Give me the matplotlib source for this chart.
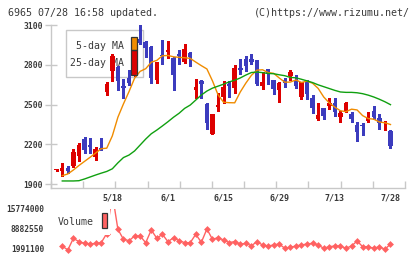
import matplotlib
matplotlib.use("Agg")
import matplotlib.pyplot as plt
from matplotlib.patches import Rectangle

W, H = 420, 259

# ---------------- data ----------------
opens = [2003, 1997, 2023, 2036, 2112, 2243, 2195, 2107, 2172, 2596,
         2752, 2785, 2641, 2700, 2727, 2998, 2975, 2938, 2683, 2876,
         2895, 2856, 2883, 2824, 2890, 2610, 2680, 2506, 2280, 2485,
         2560, 2658, 2628, 2776, 2843, 2845, 2838, 2641, 2770, 2686,
         2612, 2686, 2718, 2686, 2560, 2682, 2552, 2392, 2475, 2490,
         2512, 2410, 2448, 2430, 2346, 2346, 2380, 2452, 2402, 2360,
         2300]
closes = [2003, 2020, 1995, 2142, 2192, 2160, 2178, 2163, 2160, 2658,
          2868, 2682, 2628, 2665, 2918, 2966, 2930, 2698, 2822, 2865,
          2913, 2726, 2868, 2920, 2862, 2635, 2660, 2364, 2430, 2498,
          2635, 2643, 2776, 2762, 2796, 2826, 2658, 2672, 2735, 2620,
          2665, 2665, 2748, 2644, 2670, 2583, 2472, 2420, 2418, 2512,
          2448, 2435, 2515, 2392, 2296, 2338, 2410, 2410, 2360, 2372,
          2188]
highs = [2006, 2061, 2039, 2162, 2208, 2253, 2245, 2180, 2245, 2671,
         2880, 2790, 2697, 2760, 2935, 3100, 2980, 2945, 2826, 2990,
         2983, 2860, 2910, 2962, 2895, 2695, 2690, 2510, 2430, 2585,
         2680, 2680, 2797, 2846, 2868, 2885, 2840, 2745, 2772, 2688,
         2668, 2702, 2765, 2725, 2672, 2690, 2572, 2515, 2478, 2548,
         2552, 2455, 2522, 2447, 2368, 2360, 2445, 2490, 2430, 2380,
         2308]
lows = [2000, 1963, 1985, 2030, 2075, 2135, 2135, 2080, 2155, 2575,
        2676, 2610, 2548, 2648, 2720, 2960, 2860, 2666, 2661, 2805,
        2856, 2613, 2808, 2813, 2790, 2548, 2548, 2318, 2275, 2455,
        2510, 2556, 2592, 2735, 2757, 2810, 2645, 2620, 2660, 2582,
        2520, 2635, 2690, 2628, 2540, 2545, 2440, 2385, 2392, 2465,
        2412, 2372, 2444, 2372, 2222, 2270, 2372, 2395, 2318, 2310,
        2175]
ma5 = [None, 1963, 1976, 2006, 2040, 2071, 2102, 2134, 2167, 2171,
       2264, 2405, 2506, 2599, 2700, 2752, 2772, 2821, 2835, 2870,
       2872, 2862, 2858, 2855, 2850, 2822, 2795, 2770, 2680, 2575,
       2518, 2515, 2514, 2596, 2663, 2722, 2761, 2764, 2743, 2737,
       2702, 2670, 2671, 2687, 2668, 2678, 2662, 2623, 2558, 2513,
       2481, 2454, 2447, 2466, 2460, 2417, 2395, 2390, 2369, 2363,
       2350]
ma25 = [None, 1923, 1923, 1923, 1925, 1938, 1953, 1968, 1982, 1995,
        2015, 2060, 2100, 2119, 2150, 2195, 2240, 2280, 2308, 2339,
        2371, 2405, 2435, 2472, 2497, 2535, 2573, 2603, 2625, 2640,
        2655, 2672, 2685, 2702, 2724, 2743, 2747, 2742, 2736, 2734,
        2726, 2719, 2706, 2703, 2692, 2680, 2667, 2650, 2636, 2622,
        2608, 2596, 2593, 2593, 2590, 2583, 2572, 2558, 2541, 2522,
        2500]
volume = [None, 3020000, 1650000, 5680000, 4510000, 3950000, 3710000, 3950000, 4160000, 7330000,
          21000000, 8780000, 5330000, 4850000, 6470000, 6470000, 4160000, 8540000, 5680000, 7060000,
          4510000, 5880000, 4850000, 4160000, 4160000, 7060000, 4300000, 8880000, 5330000, 5880000,
          5090000, 4230000, 4510000, 3610000, 3950000, 3130000, 4510000, 3370000, 3020000, 3370000,
          3710000, 2230000, 2580000, 3020000, 3370000, 3710000, 3950000, 3370000, 2230000, 2780000,
          3020000, 3020000, 2230000, 3020000, 4750000, 2780000, 2780000, 2230000, 2780000, 1890000,
          3710000]
date_labels = ["5/18", "6/1", "6/15", "6/29", "7/13", "7/28"]
date_label_idx = [10, 20, 30, 40, 50, 60]
price_ticks = [1900, 2200, 2500, 2800, 3100]
vol_ticks = [1991100, 8882550, 15774000]

# ---------------- style ----------------
RED = "#dd0000"
BLUE = "#3c3cbe"
ORANGE = "#f08c00"
GREEN = "#10a010"
VOLC = "#ff6262"
GRID = "#c8c8c8"
TXT = "#3a3a3a"
MONO = "DejaVu Sans Mono"

fig = plt.figure(figsize=(W / 100, H / 100), dpi=100)
fig.patch.set_facecolor("white")


def fr(x0, y0, x1, y1):
    """pixel box (top-left origin) -> figure fraction [l, b, w, h]"""
    return [x0 / W, 1 - y1 / H, (x1 - x0) / W, (y1 - y0) / H]


X0, X1 = 51, 405
step = 5.563
x_first = 56.7
xlim = ((X0 - x_first) / step, (X1 - x_first) / step)

# ---------------- price axes ----------------
ax = fig.add_axes(fr(X0, 25, X1, 188.3))
ax.set_xlim(*xlim)
ax.set_ylim(1867.5, 3102.5)
for s in ["top", "right"]:
    ax.spines[s].set_visible(False)
for s in ["left", "bottom"]:
    ax.spines[s].set_color(GRID)
    ax.spines[s].set_linewidth(1.0)

xs = list(range(len(opens)))
body_w = 0.8
for i in xs:
    o, c, h, l = opens[i], closes[i], highs[i], lows[i]
    col = RED if c >= o else BLUE
    ax.vlines(i, l, h, color=col, linewidth=1.0, zorder=3, antialiased=False)
    bot = min(o, c)
    ht = max(abs(c - o), 8)
    ax.bar(i, ht, bottom=bot, width=body_w, color=col, linewidth=0,
           zorder=3, antialiased=False)

mx = [i for i in xs if ma5[i] is not None]
ax.plot(mx, [ma5[i] for i in mx], color=ORANGE, linewidth=1.0, zorder=4)
gx = [i for i in xs if ma25[i] is not None]
ax.plot(gx, [ma25[i] for i in gx], color=GREEN, linewidth=1.0, zorder=4)

ax.set_yticks(price_ticks)
ax.set_yticklabels([str(v) for v in price_ticks], fontsize=5.8,
                   family=MONO, color=TXT, fontweight="bold")
ax.tick_params(axis="y", direction="inout", length=8, width=1.0,
               color=GRID, pad=2)
ax.set_xticks(date_label_idx)
ax.set_xticklabels(date_labels, fontsize=6, family=MONO, color=TXT,
                   fontweight="bold")
ax.tick_params(axis="x", which="major", length=0, pad=4)
nmin = 12
ax.set_xticks([xlim[0] + k * (xlim[1] - xlim[0]) / (nmin - 1) for k in range(nmin)],
              minor=True)
ax.tick_params(axis="x", which="minor", direction="in", length=5,
               width=1.0, color=GRID)

# legend box of the price chart
tf = fig.transFigure
lx0, ly0, lx1, ly1 = 65.7, 30, 143.3, 77.3
ax.add_patch(Rectangle((lx0 / W, 1 - ly1 / H), (lx1 - lx0) / W, (ly1 - ly0) / H,
                       transform=tf, facecolor="white", edgecolor=GRID,
                       linewidth=1.0, zorder=1, clip_on=False))
ax.text(123.5 / W, 1 - 46 / H, "5-day MA", transform=tf, ha="right",
        va="center", fontsize=7.1, family=MONO, color=TXT, zorder=1.5)
ax.text(123.5 / W, 1 - 63.3 / H, "25-day MA", transform=tf, ha="right",
        va="center", fontsize=7.1, family=MONO, color=TXT, zorder=1.5)
ax.add_patch(Rectangle((131 / W, 1 - 50.3 / H), 6.3 / W, 13.3 / H, transform=tf,
                       facecolor=ORANGE, edgecolor="#333333", linewidth=0.9,
                       zorder=5, clip_on=False))
ax.add_patch(Rectangle((131 / W, 1 - 75.3 / H), 6.3 / W, 25 / H, transform=tf,
                       facecolor="none", edgecolor="#333333", linewidth=0.9,
                       zorder=5, clip_on=False))

# ---------------- volume axes ----------------
vtop, vbot = 209, 256
vax = fig.add_axes(fr(X0, vtop, X1, vbot))
vax.set_xlim(*xlim)
per_px = (vol_ticks[2] - vol_ticks[0]) / (249 - 209)
vax.set_ylim(vol_ticks[0] - (vbot - 249) * per_px, vol_ticks[2])
for s in vax.spines.values():
    s.set_visible(False)
vx = [i for i in xs if volume[i] is not None]
vax.plot(vx, [volume[i] for i in vx], color=VOLC, linewidth=1.0,
         marker="D", markersize=3.5, markeredgewidth=0, zorder=2)
vax.set_xticks([])
vax.set_yticks(vol_ticks)
vax.set_yticklabels([str(v) for v in vol_ticks], fontsize=5.7, family=MONO,
                    color=TXT, fontweight="bold")
vax.tick_params(axis="y", length=0, pad=5)

# volume legend
vax.add_patch(Rectangle((56 / W, 1 - 235 / H), 54 / W, 26 / H, transform=tf,
                        facecolor="white", edgecolor="none", zorder=3,
                        clip_on=False))
vax.text(58 / W, 1 - 222.3 / H, "Volume", transform=tf, ha="left",
         va="center", fontsize=7.1, family=MONO, color=TXT, zorder=4)
vax.add_patch(Rectangle((101.7 / W, 1 - 228.3 / H), 5.6 / W, 15 / H, transform=tf,
                        facecolor=VOLC, edgecolor="#333333", linewidth=0.9,
                        zorder=4, clip_on=False))

# ---------------- header texts ----------------
fig.text(8 / W, 1 - 13 / H, "6965 07/28 16:58 updated.", ha="left",
         va="center", fontsize=7.2, family=MONO, color=TXT)
fig.text(410 / W, 1 - 13 / H, "(C)https://www.rizumu.net/", ha="right",
         va="center", fontsize=7.2, family=MONO, color=TXT)

fig.savefig("out.png", dpi=100, facecolor="white")
